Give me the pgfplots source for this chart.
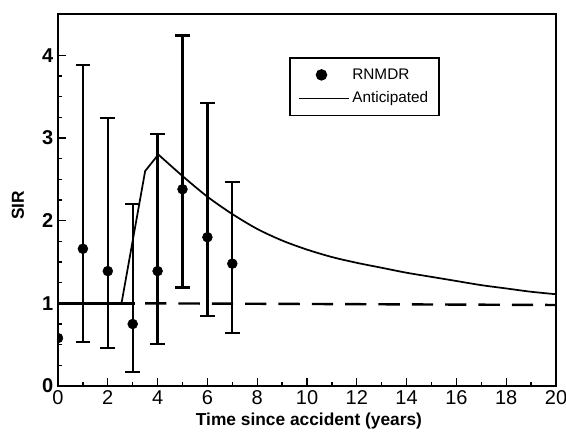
\documentclass[border=0pt]{standalone}
\usepackage{fontspec}
\setmainfont{Liberation Sans}
\usepackage{pgfplots}
\pgfplotsset{compat=1.18}
\usepackage{pgfplotstable}

% RNMDR observed SIR with asymmetric error bars (ep = up, em = down)
\pgfplotstableread{
x y ep em
1 1.66 2.22 1.13
2 1.39 1.85 0.93
3 0.75 1.45 0.58
4 1.39 1.66 0.88
5 2.38 1.86 1.19
6 1.80 1.62 0.95
7 1.48 0.99 0.84
}\rnmdr

% anticipated SIR: straight rise, then smooth decay
\pgfplotstableread{
x y
2.55 1.00
3.50 2.60
4.03 2.80
}\rise

\pgfplotstableread{
x y
4.03 2.80
5 2.54
6 2.29
7 2.08
8 1.90
9 1.76
10 1.65
11 1.56
12 1.49
13 1.43
14 1.37
15 1.32
16 1.27
17 1.22
18 1.18
19 1.14
20 1.11
}\decay

\begin{document}
\begin{tikzpicture}
\useasboundingbox (-43.5pt,-36pt) rectangle (381pt,289.5pt);
\begin{axis}[
    scale only axis,
    width=373.5pt, height=279pt,
    xmin=0, xmax=20, ymin=0, ymax=4.5,
    xtick={0,2,...,20}, ytick={0,1,2,3,4},
    minor x tick num=1, minor y tick num=3,
    xtick pos=bottom, ytick pos=left,
    major tick length=6pt, minor tick length=3pt,
    every tick/.style={black, line width=1pt},
    axis line style={line width=1.2pt},
    clip marker paths=true,
    /pgf/number format/assume math mode=true,
    xticklabel style={font=\fontsize{15}{15}\selectfont},
    yticklabel style={font=\fontsize{15}{15}\selectfont\bfseries},
    xlabel={\textbf{Time since accident (years)}},
    ylabel={\textbf{SIR}},
    label style={font=\fontsize{13}{13}\selectfont},
    xlabel style={at={(axis description cs:0.504,0)}, anchor=center, yshift=-26pt},
    ylabel style={at={(axis description cs:0,0.486)}, anchor=center, yshift=30pt},
    legend style={at={(rel axis cs:0.464,0.884)}, anchor=north west,
        draw=black, line width=1.2pt, font=\fontsize{11.5}{12}\selectfont,
        inner xsep=6pt, inner ysep=6pt, row sep=4pt},
    legend cell align=left,
]
\addplot[only marks, mark=*, mark size=3.7pt, black,
    legend image code/.code={\fill (0.6cm,0cm) circle (3.7pt);},
    error bars/.cd, y dir=both, y explicit,
    error bar style={line width=1.7pt},
    error mark options={rotate=90, mark size=5.5pt, line width=1.7pt}]
    table[x=x, y=y, y error plus=ep, y error minus=em] {\rnmdr};
\addlegendentry{RNMDR}
\addplot[only marks, mark=*, mark size=3.7pt, black, forget plot]
    coordinates {(0,0.58)};
\addplot[black, line width=1.3pt,
    legend image code/.code={\draw[line width=1.3pt] (0cm,0cm) -- (1.32cm,0cm);}]
    table[x=x, y=y] {\rise};
\addlegendentry{Anticipated}
\addplot[black, line width=1.3pt, smooth, forget plot] table[x=x, y=y] {\decay};
\addplot[black, line width=2pt, forget plot] coordinates {(0,1) (3.1,1)};
\addplot[black, line width=1.8pt, dash pattern=on 16pt off 9pt, forget plot]
    coordinates {(3.5,1) (20,0.98)};
\end{axis}
\end{tikzpicture}
\end{document}
